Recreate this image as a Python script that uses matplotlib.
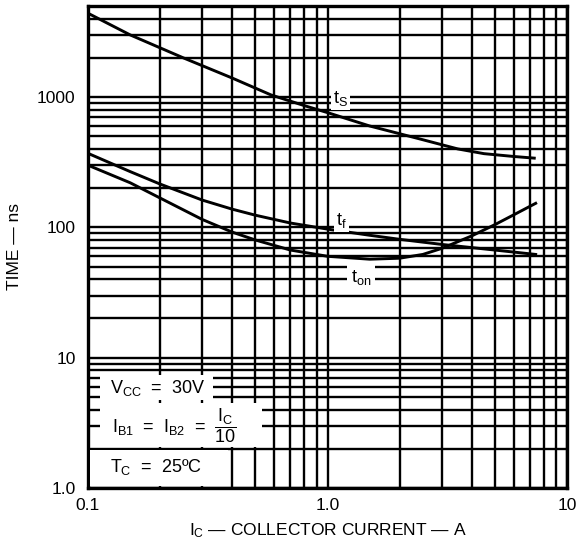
import matplotlib
matplotlib.use("Agg")
import matplotlib.pyplot as plt
from matplotlib.patches import Rectangle
from matplotlib.ticker import FixedLocator, NullFormatter, LogLocator

plt.rcParams['font.family'] = ['Liberation Sans', 'DejaVu Sans']
plt.rcParams['mathtext.fontset'] = 'custom'
plt.rcParams['mathtext.rm'] = 'Liberation Sans'
plt.rcParams['mathtext.it'] = 'Liberation Sans'

# values (I_C in A, time in ns)
ts_ic = [0.1, 0.15, 0.25, 0.4, 0.58, 0.8, 1.0, 1.5, 2.4, 3.5, 4.5, 6.0, 7.3]
ts_ns = [4400, 3000, 2000, 1400, 1040, 860, 760, 600, 480, 400, 368, 350, 340]

tf_ic = [0.1, 0.15, 0.2, 0.3, 0.4, 0.5, 0.7, 1.0, 1.5, 2.0, 3.0, 5.0, 7.4]
tf_ns = [370, 268, 215, 162, 138, 124, 108, 97, 87, 81, 74, 67, 62]

ton_ic = [0.1, 0.15, 0.2, 0.3, 0.4, 0.5, 0.7, 1.0, 1.5, 2.0, 2.5, 3.0, 4.0, 5.0, 6.0, 7.4]
ton_ns = [300, 220, 168, 115, 92, 80, 67, 60, 57, 58, 62, 69, 86, 105, 125, 153]

x_ticks = [0.1, 1.0, 10]
x_labels = ["0.1", "1.0", "10"]
y_ticks = [1, 10, 100, 1000]
y_labels = ["1.0", "10", "100", "1000"]

fig = plt.figure(figsize=(5.78, 5.45), dpi=100)
ax = fig.add_axes([88/578, 1 - 488/545, 479/578, 482/545])

ax.set_xscale("log")
ax.set_yscale("log")
ax.set_xlim(0.1, 10)
ax.set_ylim(1, 5000)

ax.plot(ts_ic, ts_ns, color="black", lw=2.1, zorder=2)
ax.plot(tf_ic, tf_ns, color="black", lw=2.1, zorder=2)
ax.plot(ton_ic, ton_ns, color="black", lw=2.1, zorder=2)

ax.xaxis.set_major_locator(FixedLocator(x_ticks))
ax.set_xticklabels(x_labels)
ax.yaxis.set_major_locator(FixedLocator(y_ticks))
ax.set_yticklabels(y_labels)
ax.xaxis.set_minor_locator(LogLocator(base=10, subs=range(2, 10)))
ax.yaxis.set_minor_locator(LogLocator(base=10, subs=range(2, 10)))
ax.xaxis.set_minor_formatter(NullFormatter())
ax.yaxis.set_minor_formatter(NullFormatter())
ax.tick_params(which="both", length=0, labelsize=12.5)
ax.tick_params(axis="y", pad=9)
ax.tick_params(axis="x", pad=7)

ax.set_axisbelow(True)
ax.grid(which="both", color="black", linewidth=1.7)
for s in ax.spines.values():
    s.set_linewidth(2.4)

# curve labels
box = dict(facecolor="white", edgecolor="none", pad=1.5)
ax.text(1.13, 980, "$t_S$", fontsize=13, ha="center", va="center", bbox=box, zorder=4)
ax.text(1.14, 113, "$t_f$", fontsize=13, ha="center", va="center", bbox=box, zorder=4)
ax.text(1.38, 41, "$t_{on}$", fontsize=13, ha="center", va="center",
        bbox=dict(facecolor="white", edgecolor="none", pad=3), zorder=4)

# white panels behind the test conditions
for x0, y0, w, h in [(0.025, 0.183, 0.236, 0.051),
                     (0.025, 0.085, 0.338, 0.091),
                     (0.004, 0.004, 0.288, 0.075)]:
    ax.add_patch(Rectangle((x0, y0), w, h, transform=ax.transAxes,
                           facecolor="white", edgecolor="none", zorder=3))

ax.text(0.046, 0.207, "$V_{CC}$  =  30V", transform=ax.transAxes, fontsize=13,
        ha="left", va="center", zorder=4)
ax.text(0.05, 0.13, r"$I_{B1}$  =  $I_{B2}$  =  $\dfrac{I_C}{10}$", transform=ax.transAxes,
        fontsize=13, ha="left", va="center", zorder=4)
ax.text(0.046, 0.044, "$T_C$  =  25ºC", transform=ax.transAxes, fontsize=13,
        ha="left", va="center", zorder=4)

ax.set_xlabel("$I_C$ — COLLECTOR CURRENT — A", fontsize=12.5, labelpad=6)
ax.set_ylabel("TIME — ns", fontsize=12.5, labelpad=11)

plt.savefig("out.png", dpi=100)
